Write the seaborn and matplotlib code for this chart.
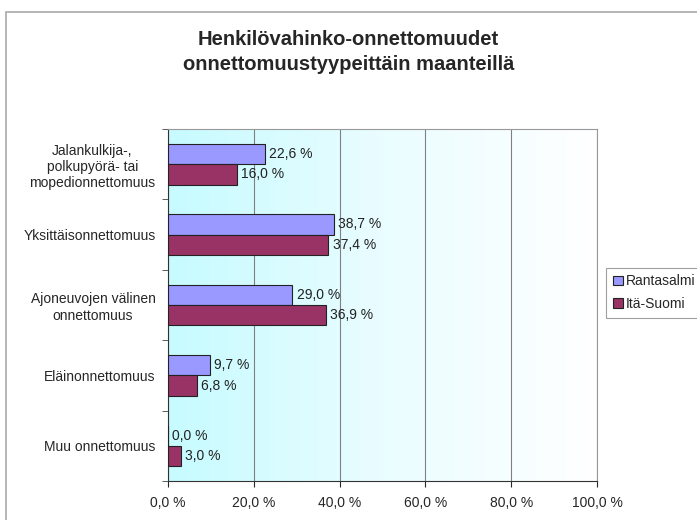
import numpy as np
import pandas as pd
import matplotlib
matplotlib.use("Agg")
import matplotlib.pyplot as plt
from matplotlib.colors import LinearSegmentedColormap
from matplotlib.patches import Rectangle
import seaborn as sns

# data
categories = [
    "Jalankulkija-,\npolkupyörä- tai\nmopedionnettomuus",
    "Yksittäisonnettomuus",
    "Ajoneuvojen välinen\nonnettomuus",
    "Eläinonnettomuus",
    "Muu onnettomuus",
]
series = ["Rantasalmi", "Itä-Suomi"]
rantasalmi = [22.6, 38.7, 29.0, 9.7, 0.0]
ita_suomi = [16.0, 37.4, 36.9, 6.8, 3.0]
xticks = [0, 20, 40, 60, 80, 100]

df = pd.DataFrame({
    "kategoria": categories * 2,
    "sarja": [series[0]] * 5 + [series[1]] * 5,
    "osuus": rantasalmi + ita_suomi,
})

sns.set_style("white")
plt.rcParams["font.family"] = ["Liberation Sans", "DejaVu Sans"]

fig = plt.figure(figsize=(6.97, 5.2), dpi=100)
ax = fig.add_axes([0.241, 0.075, 0.6155, 0.677])

# gradient background of the plot area
cmap = LinearSegmentedColormap.from_list("bg", ["#c6fbff", "#eafdff", "#ffffff"])
grad = np.linspace(0, 1, 256).reshape(1, -1)
ax.imshow(grad, cmap=cmap, aspect="auto", extent=[0, 100, 4.5, -0.5], zorder=0)

sns.barplot(data=df, y="kategoria", x="osuus", hue="sarja", orient="h",
            palette=["#9999ff", "#993366"], saturation=1, width=0.58, ax=ax,
            edgecolor="#222222", linewidth=0.8, legend=True, zorder=3)

for cont in ax.containers:
    ax.bar_label(cont, labels=[f"{v:.1f} %".replace(".", ",") for v in cont.datavalues],
                 padding=3, fontsize=10, color="#222222")

ax.set_xlim(0, 100)
ax.set_ylim(4.5, -0.5)
ax.set_xticks(xticks)
ax.set_xticklabels([f"{t:.1f} %".replace(".", ",") for t in xticks], fontsize=10)
ax.set_xlabel("")
ax.set_ylabel("")
ax.tick_params(axis="y", length=0, labelsize=10, pad=9)
for lab in ax.get_yticklabels():
    lab.set_multialignment("center")
ax.tick_params(axis="x", length=4, direction="out", bottom=True, pad=7)
ax.set_yticks([i + 0.5 for i in range(-1, 5)], minor=True)
ax.tick_params(axis="y", which="minor", length=4, left=True, color="#444444")
ax.grid(axis="x", color="#808080", linewidth=0.8, zorder=1)
ax.set_axisbelow(True)
for side in ["top", "right"]:
    ax.spines[side].set_color("#999999")
    ax.spines[side].set_linewidth(0.8)
ax.spines["left"].set_color("#333333")
ax.spines["bottom"].set_color("#333333")

leg = ax.legend(loc="center left", bbox_to_anchor=(1.005, 0.535), frameon=True,
                fontsize=10, handlelength=0.7, handleheight=0.7, handletextpad=0.25,
                borderpad=0.5, labelspacing=0.6, fancybox=False)
leg.get_frame().set_edgecolor("#888888")
leg.get_frame().set_linewidth(0.8)

fig.text(0.5, 0.9, "Henkilövahinko-onnettomuudet\nonnettomuustyypeittäin maanteillä",
         ha="center", va="center", fontsize=14.5, fontweight="bold", linespacing=1.45)

fig.patches.append(Rectangle((0.009, -0.01), 1.0, 0.987, transform=fig.transFigure,
                             fill=False, edgecolor="#b0b0b0", linewidth=1.3))

fig.savefig("out.png", dpi=100)
